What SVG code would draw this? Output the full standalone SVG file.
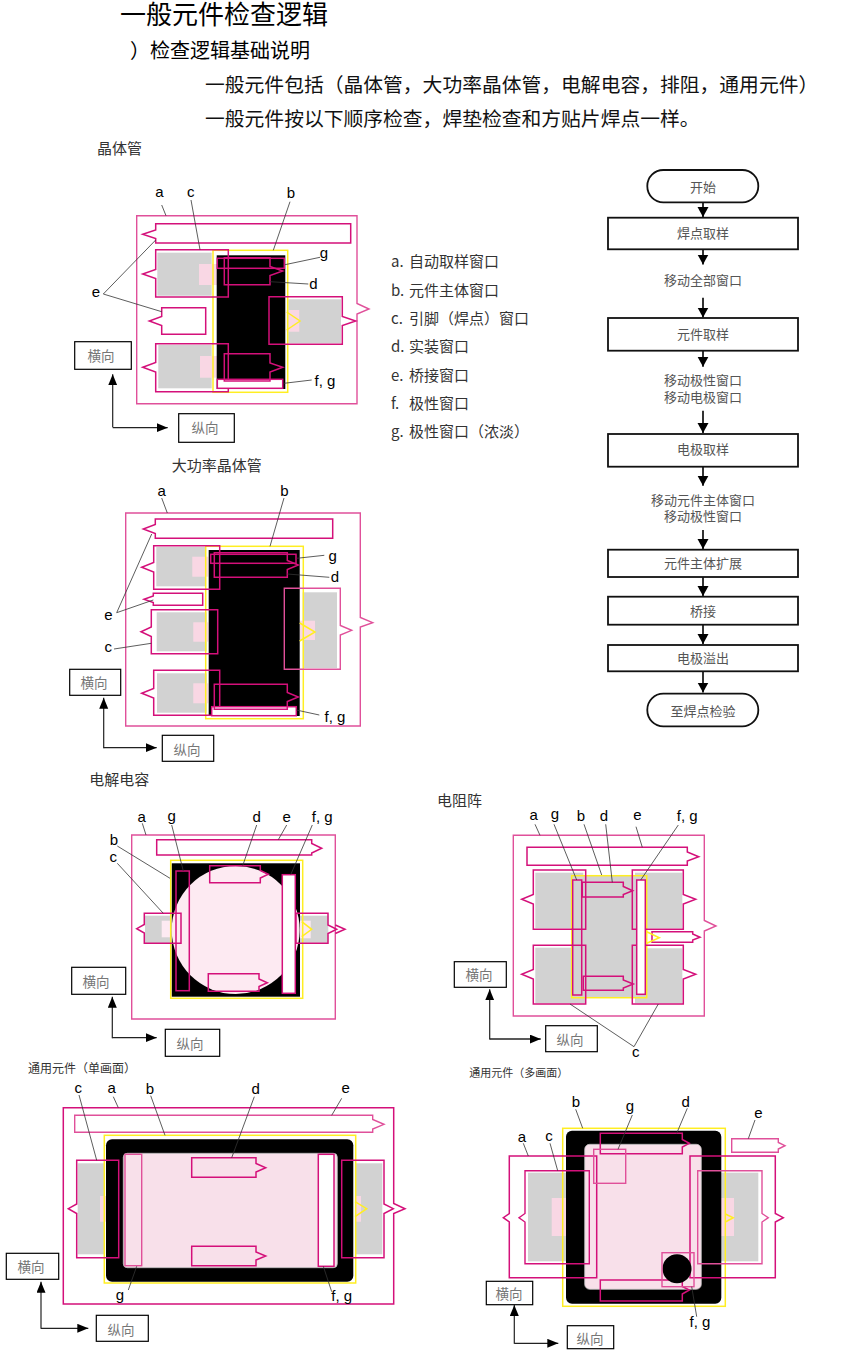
<svg xmlns="http://www.w3.org/2000/svg" width="863" height="1353" viewBox="0 0 863 1353">
<style>
text{font-family:"Noto Sans CJK SC","Liberation Sans",sans-serif}
.h1{font-family:"Liberation Sans","Noto Sans CJK SC",sans-serif;font-size:26px;fill:#000}
.h2{font-size:20px;fill:#000}
.h3{font-size:19.8px;fill:#111}
.cap{font-size:15px;fill:#333}
.leg{font-size:15px;fill:#333;transform:translateY(1px)}
.lb{font-family:"Liberation Sans Narrow","Liberation Sans",sans-serif;font-size:15px;fill:#000;text-anchor:middle}
.ax{font-size:13.5px;fill:#777;text-anchor:middle;dominant-baseline:central;transform:translateY(-1.5px)}
.axb{fill:#fff;stroke:#000;stroke-width:1.2}
.axl{fill:none;stroke:#222;stroke-width:1.2;marker-end:url(#ah)}
.fl{font-size:13px;fill:#555;text-anchor:middle;dominant-baseline:central;transform:translateY(-1px)}
.fb{fill:#fff;stroke:#111;stroke-width:1.8}
.fc{fill:none;stroke:#000;stroke-width:1.6;marker-end:url(#fh)}
.w{fill:none;stroke:#d4107a;stroke-width:1.5}
.wl{fill:none;stroke:#e0509a;stroke-width:1.4}
.wf{fill:#fff;stroke:#d4107a;stroke-width:1.5}
.y{fill:none;stroke:#ffee22;stroke-width:1.5}
.yc{fill:none;stroke:#ffee22;stroke-width:1.5}
.k{fill:#000}
.g{fill:#d2d2d2}
.p{fill:#f9d7e4}
.pb{fill:#f8e0ea;stroke:#bbb;stroke-width:.8}
.ld{fill:none;stroke:#333;stroke-width:.8}
</style>
<defs>
<marker id="ah" markerUnits="userSpaceOnUse" markerWidth="12" markerHeight="10" refX="11" refY="4.5" orient="auto"><path d="M0,0L11,4.5L0,9Z" fill="#000"/></marker>
<marker id="fh" markerUnits="userSpaceOnUse" markerWidth="11" markerHeight="12" refX="10" refY="5.5" orient="auto"><path d="M0,0L10,5.5L0,11Z" fill="#000"/></marker>
</defs>
<rect width="863" height="1353" fill="#fff"/>

<g id="header">
<text class="h1" x="120" y="24">一般元件检查逻辑</text>
<text class="h2" x="130" y="58">）检查逻辑基础说明</text>
<text class="h3" x="205" y="92">一般元件包括（晶体管，大功率晶体管，电解电容，排阻，通用元件）</text>
<text class="h3" x="205" y="126">一般元件按以下顺序检查，焊垫检查和方贴片焊点一样。</text>
</g>

<g id="legend">
<text class="leg" x="391" y="266">a.<tspan x="409">自动取样窗口</tspan></text>
<text class="leg" x="391" y="295">b.<tspan x="409">元件主体窗口</tspan></text>
<text class="leg" x="391" y="323">c.<tspan x="409">引脚（焊点）窗口</tspan></text>
<text class="leg" x="391" y="351">d.<tspan x="409">实装窗口</tspan></text>
<text class="leg" x="391" y="380">e.<tspan x="409">桥接窗口</tspan></text>
<text class="leg" x="391" y="408">f.<tspan x="409">极性窗口</tspan></text>
<text class="leg" x="391" y="436">g.<tspan x="409">极性窗口（浓淡）</tspan></text>
</g>

<g id="panel-transistor">
<text class="cap" x="97" y="154">晶体管</text>
<path class="wl" d="M136.7,215.7H357V303.5L369,309L357,314V403.7H136.7Z"/>
<path class="w" d="M155.7,223.7H350.7V243H155.7V238.5L142.7,234.3L155.7,230Z"/>
<rect class="g" x="157.3" y="252.7" width="54.4" height="43"/><rect class="p" x="199" y="264" width="18" height="21"/>
<rect class="g" x="158.3" y="345" width="53.4" height="43.3"/><rect class="p" x="200" y="356" width="17" height="21.7"/>
<rect class="g" x="288.3" y="299.3" width="52.7" height="44"/><rect class="p" x="286.7" y="310" width="12.6" height="21.7"/>
<rect class="k" x="216.7" y="255.3" width="68.6" height="133.7"/>
<rect class="y" x="213" y="250.3" width="74.7" height="142"/>
<path class="w" d="M155.7,249.7H228.3V297H155.7V278.5L142.7,274L155.7,269.5Z"/>
<path class="w" d="M161.7,307.7H205.7V334.3H161.7V325.5L149.3,321L161.7,316.5Z"/>
<path class="w" d="M155.7,343.7H228.3V391.7H155.7V372L142.7,367.3L155.7,362.5Z"/>
<rect class="w" x="217.3" y="258.3" width="67" height="10"/>
<path class="w" d="M224.3,257.7H270V266.5L282.7,271L270,275.5V284.7H224.3Z"/>
<rect class="wf" x="217.3" y="379.3" width="65.4" height="9"/>
<path class="w" d="M224.3,353.7H270V363L282.7,367.3L270,372V381H224.3Z"/>
<path class="w" d="M269,296.7H342.3V316.5L355.7,321L342.3,325.5V344.3H269Z"/>
<path class="yc" d="M286.7,312L300,321L286.7,330"/>
<g id="panel-transistor-leaders">
<path class="ld" d="M161.7,205L166,215.7M191,200L200,249.7M290,201.7L273.3,250.3M320,257.3L285,264.7M308.3,284L270,281.7M103.3,294L155.7,240M103.3,294L161.7,311.7M311.7,380L284,383.3"/>
</g>
<text class="lb" x="159.3" y="197">a</text><text class="lb" x="190.7" y="197">c</text><text class="lb" x="291" y="198">b</text><text class="lb" x="324" y="258">g</text><text class="lb" x="313.3" y="289">d</text><text class="lb" x="96" y="297">e</text><text class="lb" x="325" y="386">f, g</text>
<rect class="axb" x="74.7" y="341.7" width="56.6" height="27.6"/><text class="ax" x="101" y="356">横向</text>
<rect class="axb" x="178.7" y="413.7" width="55.6" height="28.6"/><text class="ax" x="205" y="428">纵向</text>
<path class="axl" d="M112.7,427.2V374.3"/><path class="axl" d="M112.7,427.7H167.7"/>
</g>

<g id="panel-power-transistor">
<text class="cap" x="171.7" y="471">大功率晶体管</text>
<path class="wl" d="M125.7,513H360.3V617.5L372.7,622.7L360.3,627V726H125.7Z"/>
<path class="w" d="M155.3,519H332.7V538.3H155.3V533.5L143.3,529L155.3,524.5Z"/>
<rect class="g" x="156.3" y="547" width="49.4" height="39.3"/><rect class="p" x="192.3" y="556.7" width="16" height="20"/>
<rect class="g" x="156.7" y="612.3" width="50" height="39"/><rect class="p" x="193.3" y="622.3" width="15" height="19.4"/>
<rect class="g" x="157" y="673.3" width="49.7" height="39.4"/><rect class="p" x="193.3" y="683.3" width="15" height="20"/>
<rect class="g" x="302.7" y="592.3" width="34.3" height="75.7"/><rect class="p" x="299.7" y="620.7" width="15.3" height="19.3"/>
<rect class="k" x="208.7" y="550" width="91" height="166"/>
<rect class="y" x="205.7" y="546.3" width="97.6" height="172.4"/>
<path class="w" d="M153.7,545.7H219.7V589.3H153.7V572L141.7,567.3L153.7,562.5Z"/>
<path class="w" d="M153.3,593.3H202.7V605.3H153.3V602.5L144,599.3L153.3,596Z"/>
<path class="w" d="M151.3,609.7H217.7V653.7H151.3V636.5L141,631.7L151.3,627Z"/>
<path class="w" d="M153.7,670.3H219.7V715.3H153.7V698L141.7,693.3L153.7,688.5Z"/>
<rect class="w" x="210.7" y="554.3" width="85.3" height="9"/>
<path class="w" d="M214.3,552.7H287.3V560.5L298.3,565L287.3,569.5V577.3H214.3Z"/>
<rect class="wf" x="211.7" y="706.7" width="84.6" height="9"/>
<path class="w" d="M214.3,684.3H287.3V692.5L298.3,697L287.3,701.5V709.3H214.3Z"/>
<path class="wl" d="M284.3,588.3H340.3V625.5L351.7,630.3L340.3,635V669.3H284.3Z"/>
<path class="yc" d="M299.7,623L315,632L299.7,641"/>
<g id="panel-power-transistor-leaders">
<path class="ld" d="M161.7,498L167.3,513M284,498L270,546.3M324.3,555.3L296.7,558.3M329.3,577.3L287.3,574M116.7,612.7L151.7,534M116.7,612.7L153.3,600M114,649L151.3,643.3M319.3,715L296.3,710"/>
</g>
<text class="lb" x="161.7" y="496">a</text><text class="lb" x="284.3" y="496">b</text><text class="lb" x="332.7" y="561">g</text><text class="lb" x="335" y="582">d</text><text class="lb" x="108.3" y="620">e</text><text class="lb" x="108.3" y="652">c</text><text class="lb" x="335" y="722">f, g</text>
<rect class="axb" x="69.7" y="669.3" width="51" height="26"/><text class="ax" x="94" y="683">横向</text>
<rect class="axb" x="162.3" y="735.3" width="51.4" height="26"/><text class="ax" x="187" y="750">纵向</text>
<path class="axl" d="M103.7,748.2V697.7"/><path class="axl" d="M103.7,747.7H156.7"/>
</g>

<g id="panel-electrolytic">
<text class="cap" x="89.3" y="785">电解电容</text>
<path class="wl" d="M131.7,835H335.3V1019H131.7Z"/>
<path class="w" d="M156.7,839.7H311.7V843.5L321.7,848.3L311.7,853V855H156.7Z"/>
<rect class="g" x="145" y="915.7" width="25" height="27.6"/><rect class="p" x="161.7" y="920.7" width="13.3" height="16.6" style="fill:#fdeaf2"/>
<rect class="g" x="300" y="915.7" width="28.3" height="27"/><rect class="p" x="298.3" y="920.7" width="12.4" height="17.6" style="fill:#fdeaf2"/>
<rect class="k" x="171.7" y="863.3" width="128.3" height="133.4"/>
<circle cx="235.7" cy="930" r="64" fill="#fdeaf2"/>
<rect class="y" x="170.7" y="860.3" width="132" height="138"/>
<rect class="w" x="176" y="871" width="13.3" height="119.7"/>
<rect class="wf" x="282.3" y="874.7" width="13" height="118.6"/>
<path class="w" d="M209.7,865.7H260.3V870.5L268.3,874.3L260.3,878V882.7H209.7Z"/>
<path class="w" d="M208.3,973.7H259V979L267.3,982.7L259,986.5V991.3H208.3Z"/>
<path class="w" d="M144.3,913.3H181V943.3H144.3V933L136.7,928.7L144.3,924.5Z"/>
<path class="w" d="M296,913.3H328V925L336.7,929.3L328,933.5V943.3H296Z"/>
<path class="w" d="M335.3,925L345,929.3L335.3,933.5"/>
<path class="yc" d="M301.7,921.7L311.7,929.3L301.7,936.7"/>
<g id="panel-electrolytic-leaders">
<path class="ld" d="M142.3,823.3L146,835M171.7,825L183.3,871M256.7,825L242.7,865.7M286.7,825L278.3,839.7M312.3,825L290.7,874.7M117.3,846L170,878.3M117.3,863.3L163.3,913.3"/>
</g>
<text class="lb" x="141.7" y="822">a</text><text class="lb" x="171.7" y="821">g</text><text class="lb" x="256.7" y="822">d</text><text class="lb" x="286.7" y="822">e</text><text class="lb" x="322.3" y="822">f, g</text><text class="lb" x="114" y="845">b</text><text class="lb" x="113.3" y="862">c</text>
<rect class="axb" x="71.7" y="967.3" width="54" height="27"/><text class="ax" x="96" y="982">横向</text>
<rect class="axb" x="165.3" y="1029.3" width="54.4" height="27"/><text class="ax" x="190" y="1044">纵向</text>
<path class="axl" d="M112.3,1038.2V996.7"/><path class="axl" d="M112.3,1037.7H156.7"/>
</g>

<g id="panel-resistor-array">
<text class="cap" x="437" y="806">电阻阵</text>
<path class="wl" d="M513.3,835.3H704.3V920.5L716,926L704.3,931V1016H513.3Z"/>
<path class="w" d="M527,847.3H687.3V852L698.7,856.7L687.3,861V865.3H527Z"/>
<rect class="g" x="535.3" y="872.7" width="48" height="55.6"/><rect class="g" x="635" y="872.7" width="47.3" height="55.6"/>
<rect class="g" x="535.3" y="947.7" width="49.7" height="55.6"/><rect class="g" x="635" y="948.3" width="47.3" height="55"/>
<rect class="g" x="571.7" y="875.7" width="75" height="122"/>
<rect class="y" x="571.7" y="875.7" width="75" height="122"/>
<path class="w" d="M533.3,870H585.7V929.3H533.3V904L521.7,899.3L533.3,894.5Z"/>
<path class="w" d="M632.3,870H683.3V894.5L695.7,899.3L683.3,904V929.3H632.3Z"/>
<path class="w" d="M533.3,945.3H585.7V1004H533.3V979L521.7,974.3L533.3,969.5Z"/>
<path class="w" d="M632.3,945.3H683.3V969.5L695.7,974.3L683.3,979V1004H632.3Z"/>
<rect class="w" x="572.7" y="880" width="9" height="115"/>
<rect class="wf" x="636.7" y="880" width="8.6" height="114.3"/>
<path class="w" d="M582.3,882.3H623.3V886.5L632.7,890.7L623.3,894.5V897H582.3Z"/>
<path class="w" d="M583.3,976.3H623.3V980L633.3,984L623.3,988V990.3H583.3Z"/>
<path class="w" d="M652,931.7H692.7V934L700,937.3L692.7,940V942.3H652Z"/>
<path class="yc" d="M646.7,931.7L659.3,937.7L646.7,943.3"/>
<g id="panel-resistor-array-leaders">
<path class="ld" d="M535,824.3L540,835.3M554,824.3L576.7,880M584,824.3L601.7,875M605.7,824.3L612.3,882.3M636,826.7L642.3,847.3M678.3,825L640.7,880M634,1046.7L570,1004M634,1046.7L658.3,1004"/>
</g>
<text class="lb" x="533.7" y="820">a</text><text class="lb" x="555" y="819">g</text><text class="lb" x="581" y="821">b</text><text class="lb" x="604" y="821">d</text><text class="lb" x="637.3" y="820">e</text><text class="lb" x="687.3" y="821">f, g</text><text class="lb" x="635.7" y="1057">c</text>
<rect class="axb" x="454.3" y="961.7" width="52" height="25.6" /><text class="ax" x="479" y="975">横向</text>
<rect class="axb" x="545.7" y="1025.7" width="51.6" height="26"/><text class="ax" x="570" y="1040">纵向</text>
<path class="axl" d="M489.7,1039.5V989.3"/><path class="axl" d="M489.7,1039H540.7" style="stroke-width:1.6"/>
</g>

<g id="panel-general-single">
<text class="cap" x="28" y="1073" style="font-size:12px">通用元件（单画面）</text>
<path class="w" d="M63.3,1107.7H393.7V1203.5L405,1208.7L393.7,1213.5V1304H63.3Z"/>
<path class="wl" d="M74.7,1115.3H372.7V1119.5L384,1124.3L372.7,1129V1132.3H74.7Z"/>
<rect class="g" x="77.7" y="1163.3" width="27.3" height="91"/><rect class="p" x="100" y="1196" width="6" height="25.7"/>
<rect class="g" x="355.7" y="1163.3" width="26.6" height="91"/><rect class="p" x="355" y="1196" width="6" height="25.7"/>
<rect class="k" x="106" y="1139.3" width="247.3" height="142.4" rx="6"/>
<rect class="pb" x="123.3" y="1153.3" width="214" height="114.4" rx="4"/>
<rect class="y" x="104.3" y="1135.3" width="251.4" height="147.7"/>
<rect class="wl" x="125" y="1154.3" width="16.7" height="111.4"/>
<rect class="wf" x="318.3" y="1154.3" width="15.7" height="112"/>
<path class="w" d="M191.7,1157.7H256V1163.5L265.7,1167.7L256,1172V1177.3H191.7Z"/>
<path class="w" d="M191.7,1246.3H256V1252L265.7,1256L256,1260V1265.7H191.7Z"/>
<path class="w" d="M76.7,1160.3H118.7V1257.7H76.7V1213.5L68.3,1208.7L76.7,1204Z"/>
<path class="w" d="M341.7,1160.3H384V1204L393.3,1208.7L384,1213.5V1257.7H341.7Z"/>
<path class="yc" d="M355,1201.7L366.7,1208.7L355,1216.7"/>
<g id="panel-general-single-leaders">
<path class="ld" d="M79,1095L96.7,1160.3M113.3,1096.7L118.3,1107.7M150.7,1095.7L165,1135.3M254.3,1096.7L231.7,1157.7M341.7,1098.3L331.7,1115.3M128.3,1290L136.7,1266.3M331.7,1291.7L323.3,1266.3"/>
</g>
<text class="lb" x="78.3" y="1093">c</text><text class="lb" x="111.7" y="1093">a</text><text class="lb" x="150" y="1094">b</text><text class="lb" x="255.7" y="1094">d</text><text class="lb" x="345.7" y="1093">e</text><text class="lb" x="120" y="1300">g</text><text class="lb" x="341.7" y="1301">f, g</text>
<rect class="axb" x="6.3" y="1253.3" width="52.4" height="26"/><text class="ax" x="31" y="1267">横向</text>
<rect class="axb" x="96.3" y="1315.3" width="52" height="26"/><text class="ax" x="121" y="1330">纵向</text>
<path class="axl" d="M41,1328.8V1281.7"/><path class="axl" d="M41,1328.3H88.3"/>
</g>

<g id="panel-general-multi">
<text class="cap" x="469.3" y="1077" style="font-size:11px">通用元件（多画面）</text>
<rect class="g" x="528" y="1172.7" width="38.7" height="88.6"/><rect class="p" x="551.7" y="1198" width="15" height="38"/>
<rect class="g" x="721" y="1172.7" width="37.3" height="88.6"/><rect class="p" x="721" y="1198" width="13" height="38"/>
<rect class="k" x="566" y="1130.7" width="155.3" height="173" rx="6"/>
<rect class="pb" x="584.7" y="1144.3" width="116.6" height="145" rx="5"/>
<rect class="y" x="562.7" y="1128.3" width="162.6" height="178"/>
<path class="w" d="M509.3,1156H596.7V1277.7H509.3V1222L503.3,1217.7L509.3,1213.5Z"/>
<path class="wl" d="M525,1170.7H589.3V1263.7H525V1222L519,1217.7L525,1213.5Z" style="stroke:#d4107a"/>
<path class="w" d="M690,1156H775.3V1213.5L783.3,1217.7L775.3,1222V1277.7H690Z"/>
<path class="wl" d="M697.7,1170.7H762V1213.5L768.3,1217.7L762,1222V1263.7H697.7Z"/>
<path class="yc" d="M725.3,1214L733.3,1217.7L725.3,1222"/>
<path class="w" d="M600.3,1133.3H682.3V1139.5L689.3,1143.3L682.3,1147V1153.7H600.3Z"/>
<path class="w" d="M600.3,1280H682.3V1286.5L689.3,1290L682.3,1294V1301H600.3Z"/>
<rect class="wl" x="593.7" y="1149.3" width="32" height="34"/>
<circle cx="677" cy="1268.7" r="14.5" fill="#000"/>
<rect class="wl" x="662" y="1252.7" width="32" height="34"/>
<path class="wl" d="M731.7,1138.7H778.3V1142.5L785,1145.7L778.3,1149V1152.3H731.7Z"/>
<g id="panel-general-multi-leaders">
<path class="ld" d="M575.7,1109.3L582.7,1128.3M632.3,1115L618,1149.3M687.3,1108.3L676.7,1133.3M755,1120L748.3,1138.7M523.3,1143.3L528.3,1156M550,1143.3L557.7,1170.7M696.7,1316.7L691.7,1286.7"/>
</g>
<text class="lb" x="576" y="1107">b</text><text class="lb" x="630" y="1111">g</text><text class="lb" x="685.7" y="1107">d</text><text class="lb" x="758.3" y="1118">e</text><text class="lb" x="522" y="1142">a</text><text class="lb" x="549" y="1141">c</text><text class="lb" x="700" y="1327">f, g</text>
<rect class="axb" x="486.3" y="1281.3" width="46.4" height="23.4"/><text class="ax" x="509" y="1294">横向</text>
<rect class="axb" x="567.3" y="1325.7" width="46.4" height="23"/><text class="ax" x="590" y="1339">纵向</text>
<path class="axl" d="M514.3,1343.8V1305"/><path class="axl" d="M514.3,1343.3H558.3"/>
</g>

<g id="flow-connectors">
<path class="fc" d="M703,202.3V217"/>
<path class="fc" d="M703,249.3V264.5"/>
<path class="fc" d="M703,297.7V317.5"/>
<path class="fc" d="M703,350.7V366.7"/>
<path class="fc" d="M703,410.7V433"/>
<path class="fc" d="M703,466.7V485.7"/>
<path class="fc" d="M703,530V549"/>
<path class="fc" d="M703,577V596"/>
<path class="fc" d="M703,624.7V644"/>
<path class="fc" d="M703,671.3V692.5"/>
</g>
<g id="flow-start"><rect class="fb" x="647.3" y="170" width="111" height="32.3" rx="16"/><text class="fl" x="703" y="187">开始</text></g>
<g id="flow-pad-sample"><rect class="fb" x="608" y="217.7" width="190" height="31.6"/><text class="fl" x="703" y="233">焊点取样</text></g>
<g id="flow-move-all"><text class="fl" x="703" y="280">移动全部窗口</text></g>
<g id="flow-body-sample"><rect class="fb" x="608" y="318" width="190" height="32.7"/><text class="fl" x="703" y="334">元件取样</text></g>
<g id="flow-move-pol"><text class="fl" x="703" y="380">移动极性窗口</text><text class="fl" x="703" y="397">移动电极窗口</text></g>
<g id="flow-electrode-sample"><rect class="fb" x="608" y="434" width="190" height="32.7"/><text class="fl" x="703" y="449">电极取样</text></g>
<g id="flow-move-body"><text class="fl" x="703" y="500">移动元件主体窗口</text><text class="fl" x="703" y="516.7">移动极性窗口</text></g>
<g id="flow-body-expand"><rect class="fb" x="608" y="549.7" width="190" height="27.3"/><text class="fl" x="703" y="563">元件主体扩展</text></g>
<g id="flow-bridge"><rect class="fb" x="608" y="596.7" width="190" height="28"/><text class="fl" x="703" y="611">桥接</text></g>
<g id="flow-overflow"><rect class="fb" x="608" y="645" width="190" height="26.3"/><text class="fl" x="703" y="658">电极溢出</text></g>
<g id="flow-end"><rect class="fb" x="647.3" y="693.7" width="111" height="32.6" rx="16"/><text class="fl" x="703" y="711.5">至焊点检验</text></g>
</svg>
